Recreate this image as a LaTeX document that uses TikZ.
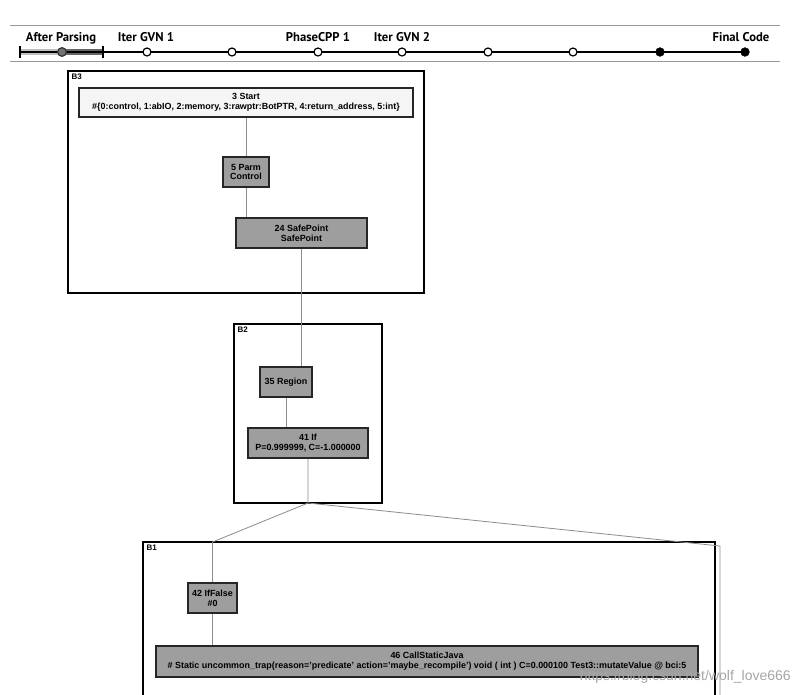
\documentclass[tikz,border=0pt]{standalone}
\usepackage{fontspec}
\setmainfont{Liberation Sans}
\newfontfamily\barfont{PT Sans}
\begin{document}
\begin{tikzpicture}[x=0.75pt,y=-0.75pt,
  nodetext/.style={font=\bfseries\fontsize{6.7pt}{7.4pt}\selectfont, align=center, inner sep=0pt},
  irnode/.style={nodetext, draw=black!85, line width=1.2pt, fill=black!38, minimum height=22.5pt},
  blockbox/.style={draw=black, line width=1.4pt},
  blocklabel/.style={font=\bfseries\fontsize{6pt}{7pt}\selectfont, anchor=north west, inner sep=1pt},
  edge/.style={draw=black!45, line width=0.6pt},
  barlabel/.style={font=\barfont\bfseries\fontsize{9.5pt}{11pt}\selectfont, anchor=base},
  opendot/.style={circle, draw=black, line width=0.9pt, fill=white, inner sep=0pt, minimum size=6pt},
  fulldot/.style={circle, draw=black, fill=black, inner sep=0pt, minimum size=6.5pt},
  greydot/.style={circle, draw=black!80, fill=black!55, line width=0.9pt, inner sep=0pt, minimum size=6.5pt}
]
\useasboundingbox (0,0) rectangle (802,694);
\fill[white] (0,0) rectangle (802,694);
\clip (0,0) rectangle (802,694);

% ---- phase bar ----
\draw[black!40, line width=0.6pt] (10,25) -- (780,25);
\draw[black!40, line width=0.6pt] (10,61) -- (780,61);
\node[barlabel] (lab1) at (61,41) {After Parsing};
\node[barlabel] (lab2) at (146,41) {Iter GVN 1};
\node[barlabel] (lab3) at (318,41) {PhaseCPP 1};
\node[barlabel] (lab4) at (402,41) {Iter GVN 2};
\node[barlabel] (lab5) at (741,41) {Final Code};
\fill[black!25] (20,49) rectangle (62,55);
\fill[black!60] (62,49) rectangle (103,55);
\draw[black, line width=1.3pt] (20,52) -- (745,52);
\draw[black, line width=1.2pt] (20,46) -- (20,58);
\draw[black, line width=1.2pt] (103,46) -- (103,58);
\node[greydot] (d1) at (62,52) {};
\node[opendot] (d2) at (147,52) {};
\node[opendot] (d3) at (232,52) {};
\node[opendot] (d4) at (318,52) {};
\node[opendot] (d5) at (402,52) {};
\node[opendot] (d6) at (488,52) {};
\node[opendot] (d7) at (573,52) {};
\node[fulldot] (d8) at (660,52) {};
\node[fulldot] (d9) at (745,52) {};

% ---- blocks ----
\draw[blockbox] (68,71) rectangle (424,293);
\node[blocklabel] (b3) at (70,72) {B3};
\draw[blockbox] (234,324) rectangle (382,503);
\node[blocklabel] (b2) at (236,325) {B2};
\draw[blockbox] (143,542) rectangle (715,720);
\node[blocklabel] (b1) at (145,543) {B1};

% ---- nodes ----
\node[irnode, fill=black!4, minimum width=250.5pt, minimum height=21.75pt] (start) at (246,102.5)
  {3 Start\\\#\{0:control, 1:abIO, 2:memory, 3:rawptr:BotPTR, 4:return\_address, 5:int\}};
\node[irnode, minimum width=34.5pt] (parm) at (246,172) {5 Parm\\Control};
\node[irnode, minimum width=98pt] (sp) at (301.5,233) {24 SafePoint\\SafePoint};
\node[irnode, minimum width=39pt] (region) at (286,382) {35 Region};
\node[irnode, minimum width=90pt] (if) at (308,443) {41 If\\P=0.999999, C=-1.000000};
\node[irnode, minimum width=36.75pt] (iffalse) at (212.5,598) {42 IfFalse\\\#0};
\node[irnode, minimum width=406.5pt, minimum height=23.25pt] (call) at (427,661.5)
  {46 CallStaticJava\\\# Static uncommon\_trap(reason='predicate' action='maybe\_recompile')  void ( int ) C=0.000100 Test3::mutateValue @ bci:5};

% ---- edges ----
\coordinate (fork) at (308,503);
\coordinate (leftin) at (212.5,542);
\coordinate (rightin) at (720,546);
\coordinate (rightout) at (720,700);
\draw[edge] (start) -- (parm);
\draw[edge] (parm.south) -- (parm.south |- sp.north);
\draw[edge] (sp.south) -- (sp.south |- region.north);
\draw[edge] (region.south) -- (region.south |- if.north);
\draw[edge] (if.south) -- (fork) -- (leftin) -- (iffalse.north);
\draw[edge] (fork) -- (rightin) -- (rightout);
\draw[edge] (iffalse.south) -- (iffalse.south |- call.north);

% ---- watermark ----
\node[font=\fontsize{10.5pt}{12pt}\selectfont, text=black!35, anchor=base east, inner sep=0pt] (wm) at (791,680) {https://blog.csdn.net/wolf\_love666};
\end{tikzpicture}
\end{document}
